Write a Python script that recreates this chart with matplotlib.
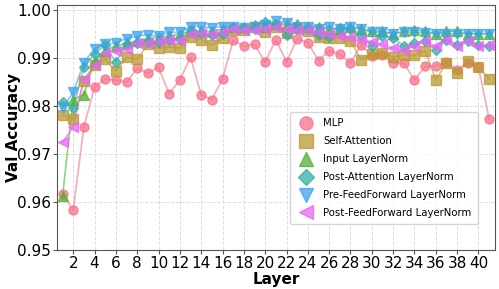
import matplotlib
matplotlib.use("Agg")
import matplotlib.pyplot as plt
import seaborn as sns

layers = list(range(1, 42))

mlp = [0.9617, 0.9583, 0.9756, 0.9839, 0.9856, 0.9853, 0.9849, 0.9878, 0.9868, 0.9880,
       0.9825, 0.9854, 0.9901, 0.9823, 0.9813, 0.9856, 0.9936, 0.9924, 0.9928, 0.9891,
       0.9938, 0.9891, 0.9940, 0.9931, 0.9894, 0.9915, 0.9907, 0.9889, 0.9927, 0.9903,
       0.9905, 0.9889, 0.9889, 0.9854, 0.9882, 0.9883, 0.9891, 0.9875, 0.9889, 0.9881,
       0.9772]
self_attn = [0.9780, 0.9773, 0.9852, 0.9884, 0.9897, 0.9872, 0.9901, 0.9897, 0.9929, 0.9920,
             0.9922, 0.9920, 0.9943, 0.9938, 0.9927, 0.9941, 0.9958, 0.9958, 0.9963, 0.9953,
             0.9965, 0.9952, 0.9961, 0.9955, 0.9944, 0.9941, 0.9942, 0.9934, 0.9896, 0.9908,
             0.9910, 0.9901, 0.9906, 0.9905, 0.9915, 0.9854, 0.9889, 0.9868, 0.9894, 0.9880,
             0.9856]
input_ln = [0.9612, 0.9813, 0.9823, 0.9893, 0.9915, 0.9925, 0.9930, 0.9935, 0.9940, 0.9944,
            0.9945, 0.9950, 0.9955, 0.9955, 0.9955, 0.9960, 0.9965, 0.9965, 0.9968, 0.9965,
            0.9970, 0.9970, 0.9970, 0.9965, 0.9965, 0.9960, 0.9960, 0.9965, 0.9960, 0.9955,
            0.9955, 0.9950, 0.9955, 0.9958, 0.9955, 0.9950, 0.9955, 0.9955, 0.9950, 0.9950,
            0.9950]
post_attn_ln = [0.9808, 0.9795, 0.9880, 0.9908, 0.9926, 0.9891, 0.9928, 0.9931, 0.9932, 0.9933,
                0.9938, 0.9940, 0.9958, 0.9952, 0.9948, 0.9950, 0.9963, 0.9962, 0.9960, 0.9974,
                0.9970, 0.9948, 0.9960, 0.9960, 0.9948, 0.9944, 0.9962, 0.9960, 0.9948, 0.9924,
                0.9946, 0.9942, 0.9924, 0.9930, 0.9934, 0.9917, 0.9938, 0.9927, 0.9934, 0.9927,
                0.9924]
pre_ff_ln = [0.9795, 0.9828, 0.9890, 0.9919, 0.9928, 0.9931, 0.9940, 0.9945, 0.9948, 0.9945,
             0.9953, 0.9953, 0.9965, 0.9965, 0.9962, 0.9965, 0.9965, 0.9962, 0.9965, 0.9969,
             0.9977, 0.9973, 0.9965, 0.9965, 0.9960, 0.9963, 0.9960, 0.9965, 0.9960, 0.9953,
             0.9953, 0.9950, 0.9953, 0.9953, 0.9952, 0.9950, 0.9950, 0.9950, 0.9950, 0.9950,
             0.9950]
post_ff_ln = [0.9724, 0.9756, 0.9855, 0.9885, 0.9910, 0.9915, 0.9918, 0.9931, 0.9931, 0.9934,
              0.9938, 0.9938, 0.9950, 0.9951, 0.9950, 0.9953, 0.9960, 0.9958, 0.9958, 0.9960,
              0.9965, 0.9960, 0.9958, 0.9958, 0.9953, 0.9950, 0.9945, 0.9943, 0.9938, 0.9933,
              0.9928, 0.9920, 0.9917, 0.9924, 0.9934, 0.9924, 0.9938, 0.9924, 0.9934, 0.9924,
              0.9927]

series = [
    ("MLP", mlp, "o"),
    ("Self-Attention", self_attn, "s"),
    ("Input LayerNorm", input_ln, "^"),
    ("Post-Attention LayerNorm", post_attn_ln, "D"),
    ("Pre-FeedForward LayerNorm", pre_ff_ln, "v"),
    ("Post-FeedForward LayerNorm", post_ff_ln, "<"),
]
colors = sns.color_palette("husl", 6)

plt.rcParams['font.family'] = ['DejaVu Sans']
fig, ax = plt.subplots(figsize=(4.99, 2.89), dpi=100)
fig.subplots_adjust(left=0.114, right=0.992, top=0.983, bottom=0.135)

for (name, vals, mk), c in zip(series, colors):
    ax.plot(layers, vals, color=c, alpha=0.6, linewidth=1.2, zorder=2)
    ax.plot(layers, vals, linestyle='none', marker=mk, color=c, alpha=0.75,
            markersize=6.5 if mk != "D" else 5.5, label=name, zorder=3)

ax.set_xlim(0.47, 41.55)
ax.set_ylim(0.95, 1.001)
ax.set_xticks(list(range(2, 41, 2)))
ax.set_yticks([0.95, 0.96, 0.97, 0.98, 0.99, 1.00])
ax.set_yticklabels(["0.95", "0.96", "0.97", "0.98", "0.99", "1.00"])
ax.tick_params(axis='both', labelsize=11, length=3, pad=1, color='#555555')
ax.set_xlabel("Layer", fontsize=11, fontweight='bold', labelpad=1)
ax.set_ylabel("Val Accuracy", fontsize=11, fontweight='bold')
ax.yaxis.set_label_coords(-0.083, 0.5)
ax.grid(True, linestyle='--', color='#dddddd', linewidth=0.7)
for s in ax.spines.values():
    s.set_color('#555555')

leg = ax.legend(loc='lower right', fontsize=7.3, markerscale=1.45, frameon=True,
                borderpad=0.6, handletextpad=0.7, labelspacing=0.78, handlelength=2.0,
                bbox_to_anchor=(0.972, 0.085))
leg.get_frame().set_edgecolor('#cccccc')

fig.savefig("out.png", dpi=100)
